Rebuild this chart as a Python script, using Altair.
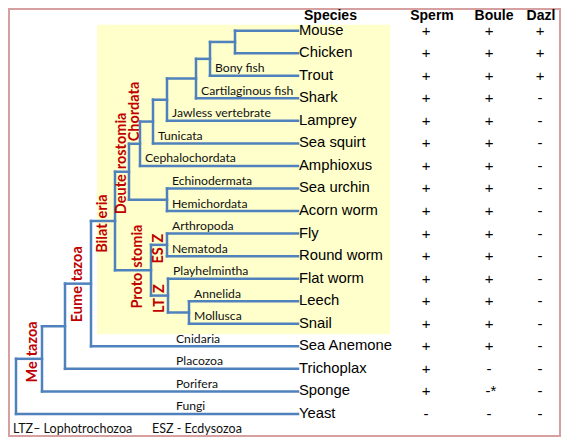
import altair as alt
import pandas as pd

# ---------------- data ----------------
SPECIES = ["Mouse", "Chicken", "Trout", "Shark", "Lamprey", "Sea squirt", "Amphioxus",
           "Sea urchin", "Acorn worm", "Fly", "Round worm", "Flat worm", "Leech", "Snail",
           "Sea Anemone", "Trichoplax", "Sponge", "Yeast"]
COLUMNS = ["Sperm", "Boule", "Dazl"]
SPERM = ["+"] * 17 + ["-"]
BOULE = ["+"] * 15 + ["-", "-*", "-"]
DAZL = ["+"] * 3 + ["-"] * 15

# internal nodes of the tree: name, branch depth, children
NODE_NAMES = ["root", "Metazoa", "Placozoa+", "Eumetazoa", "Bilateria", "Deuterostomia",
              "Chordata", "Olfactores", "Vertebrata", "Gnathostomata", "Osteichthyes",
              "Amniota", "Ambulacraria", "Protostomia", "ESZ", "LTZ", "Annelida+Mollusca"]
NODE_DEPTH = [14, 40, 63, 89, 113, 127, 138, 151, 165, 194, 208, 233, 165, 149, 165, 166, 187]
NODE_CHILDREN = [
    ["Metazoa", "Yeast"],
    ["Placozoa+", "Sponge"],
    ["Eumetazoa", "Trichoplax"],
    ["Bilateria", "Sea Anemone"],
    ["Deuterostomia", "Protostomia"],
    ["Chordata", "Ambulacraria"],
    ["Olfactores", "Amphioxus"],
    ["Vertebrata", "Sea squirt"],
    ["Gnathostomata", "Lamprey"],
    ["Osteichthyes", "Shark"],
    ["Amniota", "Trout"],
    ["Mouse", "Chicken"],
    ["Sea urchin", "Acorn worm"],
    ["ESZ", "LTZ"],
    ["Fly", "Round worm"],
    ["Flat worm", "Annelida+Mollusca"],
    ["Leech", "Snail"],
]
LEAF_DEPTH = 296

BRANCH_LEAVES = ["Trout", "Shark", "Lamprey", "Sea squirt", "Amphioxus", "Sea urchin",
                 "Acorn worm", "Fly", "Round worm", "Flat worm", "Leech", "Snail",
                 "Sea Anemone", "Trichoplax", "Sponge", "Yeast"]
BRANCH_TEXT = ["Bony fish", "Cartilaginous fish", "Jawless vertebrate", "Tunicata",
               "Cephalochordata", "Echinodermata", "Hemichordata", "Arthropoda", "Nematoda",
               "Playhelmintha", "Annelida", "Mollusca", "Cnidaria", "Placozoa", "Porifera",
               "Fungi"]

CLADE_NODES = ["Metazoa", "Eumetazoa", "Bilateria", "Deuterostomia", "Chordata",
               "Protostomia", "ESZ", "LTZ"]
CLADE_UPPER = ["tazoa", "tazoa", "eria", "rostomia", "Chordata", "stomia", "Z", "Z"]
CLADE_LOWER = ["Me", "Eume", "Bilat", "Deute", "", "Proto", "ES", "LT"]

FOOTNOTES = ["LTZ\u2013 Lophotrochozoa", "ESZ - Ecdysozoa"]

# ---------------- layout / style ----------------
W, H = 553, 429
ROW_PX = 22.86          # reference pixels per species row
FIRST_ROW_PX = 28       # reference y of the first species row
X_DOMAIN = [6, 559]
Y_DOMAIN = [(5 - FIRST_ROW_PX) / ROW_PX, (440 - FIRST_ROW_PX) / ROW_PX]
VALUE_X = [424, 487, 538]
HEADER_X = [430, 492, 539]
SPECIES_X = 297
SPECIES_HEADER_X = 302
HEADER_ROW = (13 - FIRST_ROW_PX) / ROW_PX
FOOT_ROW = (432 - FIRST_ROW_PX) / ROW_PX
FOOT_X = [11, 150]
OUTER_LABEL_X = 174
CLADE_NUDGE = [4, 0, 0, 0, 0, 5, 0, 0]
BOX_X = [95, 388]
BOX_PAD = [0.26, 0.47]
GAP = 2.5 / ROW_PX

LINE = "#4f81bd"
RED = "#c00000"
YELLOW = "#ffffcc"
FRAME = "#d6a0a0"

X = alt.Scale(domain=X_DOMAIN, nice=False, zero=False)
Y = alt.Scale(domain=Y_DOMAIN, reverse=True, nice=False, zero=False)

# ---------------- tree layout ----------------
row = {s: i for i, s in enumerate(SPECIES)}
children = dict(zip(NODE_NAMES, NODE_CHILDREN))
depth = dict(zip(NODE_NAMES, NODE_DEPTH))
parent = {c: n for n in NODE_NAMES for c in children[n]}


def ypos(n):
    if n in row:
        return float(row[n])
    c = children[n]
    return (ypos(c[0]) + ypos(c[-1])) / 2


def xpos(n):
    return depth.get(n, LEAF_DEPTH)


segs = []
for n in NODE_NAMES:
    c = children[n]
    segs.append({"x": depth[n], "x2": depth[n], "y": ypos(c[0]), "y2": ypos(c[-1])})
    for ch in c:
        segs.append({"x": depth[n], "x2": xpos(ch), "y": ypos(ch), "y2": ypos(ch)})
seg_df = pd.DataFrame(segs)

# branch labels
bl = []
for leaf, txt in zip(BRANCH_LEAVES, BRANCH_TEXT):
    p = parent[leaf]
    x = depth[p] + 5 if depth[p] > 100 else OUTER_LABEL_X
    bl.append({"x": x, "y": ypos(leaf), "t": txt})
bl_df = pd.DataFrame(bl)

# clade labels
up, lo = [], []
for n, u, l, nud in zip(CLADE_NODES, CLADE_UPPER, CLADE_LOWER, CLADE_NUDGE):
    cx = (depth[parent[n]] + depth[n]) / 2 + nud
    cy = ypos(n)
    up.append({"x": cx, "y": cy - GAP, "t": u})
    if l:
        lo.append({"x": cx, "y": cy + GAP, "t": l})
up_df = pd.DataFrame(up)
lo_df = pd.DataFrame(lo)

# species + table
sp_df = pd.DataFrame({"x": SPECIES_X, "y": list(range(len(SPECIES))), "t": SPECIES})
vals = []
for cx, col in zip(VALUE_X, [SPERM, BOULE, DAZL]):
    for i, v in enumerate(col):
        vals.append({"x": cx + (2 if v == "-*" else 0), "y": i, "t": v})
val_df = pd.DataFrame(vals)
hdr_df = pd.DataFrame({"x": [SPECIES_HEADER_X] + HEADER_X, "y": HEADER_ROW,
                       "t": ["Species"] + COLUMNS,
                       "a": ["left", "center", "center", "center"]})
foot_df = pd.DataFrame({"x": FOOT_X, "y": FOOT_ROW, "t": FOOTNOTES})

bil = [row["Mouse"], row["Snail"]]
box_df = pd.DataFrame({"x": [BOX_X[0]], "x2": [BOX_X[1]],
                       "y": [bil[0] - BOX_PAD[0]], "y2": [bil[1] + BOX_PAD[1]]})


def enc_xy():
    return dict(x=alt.X("x:Q", scale=X, axis=None), y=alt.Y("y:Q", scale=Y, axis=None))


frame = alt.Chart(pd.DataFrame({"a": [0]})).mark_rect(
    filled=False, stroke=FRAME, strokeWidth=2).encode(
    x=alt.value(1), x2=alt.value(W - 1), y=alt.value(1), y2=alt.value(H - 1))

box = alt.Chart(box_df).mark_rect(color=YELLOW).encode(
    x=alt.X("x:Q", scale=X, axis=None), x2="x2",
    y=alt.Y("y:Q", scale=Y, axis=None), y2="y2")

tree = alt.Chart(seg_df).mark_rule(color=LINE, strokeWidth=2.5, strokeCap="square").encode(
    x=alt.X("x:Q", scale=X, axis=None), x2="x2",
    y=alt.Y("y:Q", scale=Y, axis=None), y2="y2")

branch = alt.Chart(bl_df).mark_text(
    align="left", baseline="alphabetic", dy=-3.5, font="Lato", fontSize=12.2,
    color="#111111").encode(text="t:N", **enc_xy())

clade_up = alt.Chart(up_df).mark_text(
    align="left", baseline="middle", angle=270, font="Lato", fontWeight="bold",
    fontSize=14.5, color=RED).encode(text="t:N", **enc_xy())
clade_lo = alt.Chart(lo_df).mark_text(
    align="right", baseline="middle", angle=270, font="Lato", fontWeight="bold",
    fontSize=14.5, color=RED).encode(text="t:N", **enc_xy())

species = alt.Chart(sp_df).mark_text(
    align="left", baseline="middle", font="Liberation Sans", fontSize=14.8,
    color="#000000").encode(text="t:N", **enc_xy())

values = alt.Chart(val_df).mark_text(
    align="center", baseline="middle", font="Liberation Sans", fontSize=15,
    color="#000000").encode(text="t:N", **enc_xy())

hdr_left = alt.Chart(hdr_df[hdr_df.a == "left"]).mark_text(
    align="left", baseline="middle", font="Liberation Sans", fontSize=14,
    fontWeight="bold", color="#000000").encode(text="t:N", **enc_xy())
hdr_center = alt.Chart(hdr_df[hdr_df.a == "center"]).mark_text(
    align="center", baseline="middle", font="Liberation Sans", fontSize=14,
    fontWeight="bold", color="#000000").encode(text="t:N", **enc_xy())

foot = alt.Chart(foot_df).mark_text(
    align="left", baseline="middle", font="Lato", fontSize=12.5,
    color="#111111").encode(text="t:N", **enc_xy())

chart = alt.layer(frame, box, tree, branch, clade_up, clade_lo, species, values,
                  hdr_left, hdr_center, foot).properties(
    width=W, height=H, padding=0,
    autosize=alt.AutoSizeParams(type="none"),
).configure_view(stroke=None).configure(background="white")

chart.save("out.html", embed_options={"renderer": "svg", "actions": False})
